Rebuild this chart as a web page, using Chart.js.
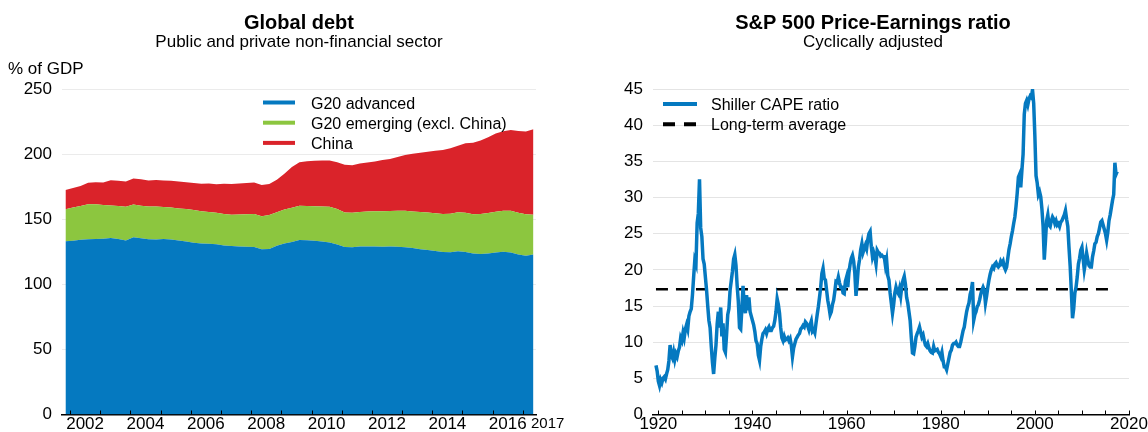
<!DOCTYPE html>
<html><head><meta charset="utf-8">
<script src="https://cdn.jsdelivr.net/npm/chart.js@4.4.1/dist/chart.umd.min.js"></script>
<style>
html,body{margin:0;padding:0;background:#fff;width:1148px;height:432px;overflow:hidden}
#c1{position:absolute;left:0;top:0}
#c2{position:absolute;left:574px;top:0}
</style></head><body>
<canvas id="c1" width="574" height="432"></canvas>
<canvas id="c2" width="574" height="432"></canvas>
<script>
// ---------- Data: Global debt (% of GDP), quarterly 2001Q4 - 2017Q2 ----------
const debtFirst = [2001, 4];
const debtLast = [2017, 2];
const debtAdvanced = [133,133.5,134.3,134.6,134.8,135,135.6,134.8,133.6,136.1,
  135.3,134.6,134.5,134.7,134.4,133.6,132.9,132,131.3,131.2,
  130.8,129.8,129.4,129.1,128.9,128.6,127,127.2,129.6,131.3,
  132.5,134,133.8,133.4,132.8,132.1,130.5,128.6,128.4,129,
  129.1,129,128.8,129.1,128.8,128.4,127.8,127,126.4,125.6,
  124.8,124.6,125.4,124.9,123.6,123.2,123.6,124.5,125,124.5,
  122.8,122,122.8];
const debtEmerging = [24.7,25.5,25.9,26.9,26.6,26,24.9,25.4,26,25.2,
  25.1,25.2,25.2,24.7,24.6,24.7,24.9,25,24.8,24.4,
  24.2,24.2,24.1,24.5,24.9,25.4,25.3,26,25.8,26.1,
  26.3,26.4,26.4,26.6,27,27.4,27.3,26.6,26.6,26.6,
  26.8,27.1,27.4,27.2,27.7,28,28.2,28.6,28.7,28.9,
  29.2,29.6,29.9,30,30.2,30.8,31.2,31.3,31.5,31.9,
  32.2,31.8,30.7];
const debtChina = [14.8,15,15.3,16.5,16.9,17.2,19.5,19.3,19.4,20,
  20.2,20,20.5,20.4,20.5,20.6,20.5,20.8,21.2,21.9,
  21.8,23.2,23.6,23.9,24,24.2,23.9,23.8,24.9,27.6,
  31.2,33.4,34.3,34.8,35.2,35.6,36,36.6,36.4,37.2,
  37.6,38.3,39.2,40,41.3,42.9,44.2,45.4,46.7,48.1,
  49.2,50.3,51.2,53.4,54.9,56.5,58.2,60,61.1,62.1,
  62.8,63.5,65.5];
const debtTickLabels = ['2002','2004','2006','2008','2010','2012','2014','2016'];
const debtLastLabel = '2017';
const debtYTicks = [0,50,100,150,200,250];

// ---------- Data: Shiller CAPE, quarterly from 1919.5 ----------
const capeStart = 1919.5;
const capeStep = 0.25;
const capeValues = [
 6.8,6.0,
 4.6,4.0,4.8,4.4,  5.0,5.2,4.9,5.6,  6.2,7.4,9.6,8.2,  7.8,8.6,7.6,8.4,  8.0,8.8,9.3,10.6,
 10.2,11.3,10.6,11.8,  12.4,11.8,13.6,14.2,  14.6,16.5,19.0,21.3,  20.8,26.5,27.8,32.5,  25.8,24.6,21.5,20.8,
 19.0,17.2,15.0,13.0,  12.0,9.4,7.2,5.6,  7.8,9.6,12.5,14.2,  12.0,14.8,10.8,12.6,  9.0,8.6,11.0,13.8,
 14.6,17.2,18.5,19.8,  21.5,22.1,20.6,17.8,  15.6,12.0,11.8,14.6,  17.8,15.2,14.0,16.5,  14.4,16.2,14.2,13.6,
 13.0,12.4,11.5,10.2,  9.8,8.2,7.5,9.4,  10.4,11.2,11.4,11.7,  11.2,11.8,12.1,11.6,  11.6,12.0,12.2,13.0,
 14.2,16.0,15.2,14.0,  12.0,10.6,10.2,10.8,  10.3,10.4,10.6,10.2,  10.5,9.6,8.0,9.2,  9.8,10.4,10.7,11.0,
 11.2,11.8,12.0,12.3,  12.1,12.8,12.6,12.2,  11.7,12.4,12.9,11.5,  11.7,11.3,12.6,13.8,  14.9,16.2,17.6,19.5,
 20.2,18.8,18.6,17.2,  15.8,14.9,13.8,14.2,  15.2,15.8,17.0,18.4,  18.3,19.0,18.2,17.6,  17.6,16.8,16.7,18.4,
 19.0,17.6,19.6,20.8,  21.6,22.0,21.2,19.5,  16.4,18.2,20.4,21.4,  22.8,23.6,22.4,22.9,  23.4,22.9,24.2,25.0,
 25.3,23.2,21.8,22.4,  21.8,20.8,22.7,22.4,  22.3,21.9,22.0,21.8,  21.8,20.6,21.4,19.2,  18.6,16.8,15.4,14.0,
 15.2,16.8,17.6,17.0,  16.7,17.4,16.4,17.8,  18.6,19.1,18.0,16.2,  15.4,14.2,13.0,10.6,  8.5,8.4,9.4,10.7,
 11.2,11.6,12.1,11.4,  10.7,11.0,10.2,9.6,  9.4,9.8,9.2,8.8,  8.6,8.5,9.4,8.8,  8.9,9.0,8.6,8.4,
 8.0,8.6,7.4,6.6,  6.6,6.2,7.0,7.8,  8.6,8.9,9.6,9.8,  9.8,10.0,9.6,9.4,  9.4,10.0,10.8,11.6,
 12.1,13.2,14.2,14.9,  15.4,16.6,17.2,18.3,  13.0,13.8,14.2,14.9,  15.2,15.8,16.6,17.2,  17.6,17.2,15.4,16.4,
 17.6,18.6,19.4,20.0,  20.4,20.2,20.8,21.0,  20.6,20.4,20.6,21.2,  20.9,21.2,20.4,20.0,  20.4,21.6,22.8,23.6,
 24.6,25.4,26.4,27.3,  28.8,30.6,32.8,33.2,  31.4,33.8,36.0,41.5,  43.0,43.4,42.8,43.6,  44.0,43.8,44.9,43.0,
 38.5,33.0,32.0,30.4,  30.8,30.1,28.4,26.0,  21.4,24.0,26.8,27.6,  26.2,26.0,26.8,27.3,  27.0,26.4,26.8,26.2,
 26.4,26.0,26.6,26.8,  27.2,27.6,28.2,27.0,  26.0,23.1,20.5,17.0,  13.3,14.6,16.8,17.6,  19.0,20.8,21.6,22.7,
 23.1,21.6,20.0,21.0,  22.3,21.4,20.6,20.4,  20.4,21.8,22.6,23.6,  23.8,24.6,25.0,25.8,  26.6,26.8,26.2,25.6,
 25.0,24.1,25.2,26.8,  27.6,28.6,29.6,30.4,  34.8,33.2,33.6
];
const capeAverage = 17.3;
const capeAverageSpan = [1919.5, 2016.2];
const capeTickLabels = ['1920','1940','1960','1980','2000','2020'];
const capeYTicks = [0,5,10,15,20,25,30,35,40,45];

// ---------- Styling ----------
const FONT = "'Liberation Sans', Arial, Helvetica, sans-serif";
Chart.defaults.font.family = FONT;
Chart.defaults.color = '#000';
const BLUE = '#0579C0', GREEN = '#8CC63F', RED = '#DA232A';

// quarter -> fractional year position
function quarterList(first, last) {
  const out = [];
  let y = first[0], q = first[1];
  while (y < last[0] || (y === last[0] && q <= last[1])) {
    out.push(y + (q - 1) * 0.25 + 0.1);
    q++; if (q > 4) { q = 1; y++; }
  }
  return out;
}
const debtX = quarterList(debtFirst, debtLast);
const capeX = capeValues.map((_, i) => capeStart + i * capeStep);
const pts = (xs, ys) => ys.map((v, i) => ({x: xs[i], y: v}));

// fixed axis sizes, no automatic label overflow padding
const fixY = w => s => { s.width = w; s.paddingTop = 0; s.paddingBottom = 0; };
const fixX = h => s => { s.height = h; s.paddingLeft = 0; s.paddingRight = 0; };

// ---------- Plugins ----------
const textPlugin = {
  id: 'texts',
  afterDraw(chart, args, o) {
    const ctx = chart.ctx; ctx.save(); ctx.fillStyle = '#000'; ctx.textBaseline = 'alphabetic';
    for (const t of o.items) { ctx.font = t.font; ctx.textAlign = t.align; ctx.fillText(t.text, t.x, t.y); }
    ctx.restore();
  }
};
const tickPlugin = {
  id: 'inTicks',
  afterDraw(chart, args, o) {
    const xs = chart.scales.x, ctx = chart.ctx, y = chart.chartArea.bottom;
    ctx.save(); ctx.strokeStyle = '#000'; ctx.lineWidth = 1;
    for (let v = o.from; v <= o.to + 1e-9; v += o.step) {
      const px = Math.round(xs.getPixelForValue(v)) + 0.5;
      ctx.beginPath(); ctx.moveTo(px, y); ctx.lineTo(px, y - o.len); ctx.stroke();
    }
    ctx.restore();
  }
};
const legendPlugin = {
  id: 'customLegend',
  afterDraw(chart, args, o) {
    const ctx = chart.ctx; ctx.save();
    chart.data.datasets.forEach((ds, i) => {
      const y = o.top + i * o.gap;
      ctx.strokeStyle = ds.fill ? ds.backgroundColor : ds.borderColor;
      ctx.lineWidth = o.lineWidth; ctx.lineCap = 'butt';
      ctx.setLineDash(ds.borderDash ? o.dash : []);
      ctx.beginPath(); ctx.moveTo(o.x, y); ctx.lineTo(o.x + o.len, y); ctx.stroke();
      ctx.setLineDash([]);
      ctx.fillStyle = '#000'; ctx.font = o.font; ctx.textAlign = 'left'; ctx.textBaseline = 'alphabetic';
      ctx.fillText(ds.label, o.textX, y + o.dy);
    });
    ctx.restore();
  }
};

// ---------- Chart 1: Global debt ----------
new Chart(document.getElementById('c1'), {
  type: 'line',
  data: {
    datasets: [
      {label: 'G20 advanced', data: pts(debtX, debtAdvanced), backgroundColor: BLUE, fill: 'origin'},
      {label: 'G20 emerging (excl. China)', data: pts(debtX, debtEmerging), backgroundColor: GREEN, fill: '-1'},
      {label: 'China', data: pts(debtX, debtChina), backgroundColor: RED, fill: '-1'}
    ].map(d => Object.assign(d, {borderWidth: 0, pointRadius: 0, tension: 0}))
  },
  options: {
    responsive: false, animation: false, events: [],
    layout: {padding: {left: 0, right: 38, top: 89, bottom: 0}},
    plugins: {
      legend: {display: false}, tooltip: {enabled: false},
      texts: {items: [
        {text: 'Global debt', x: 299, y: 28.5, font: 'bold 20px ' + FONT, align: 'center'},
        {text: 'Public and private non-financial sector', x: 299, y: 47, font: '17px ' + FONT, align: 'center'},
        {text: '% of GDP', x: 8, y: 73.5, font: '17px ' + FONT, align: 'left'},
        {text: debtLastLabel, x: 531, y: 427.5, font: '15px ' + FONT, align: 'left'}
      ]},
      inTicks: {from: 2002, to: 2017, step: 1, len: 4},
      customLegend: {x: 263, len: 32, textX: 311, top: 102.5, gap: 20.2, lineWidth: 4, dy: 6.5, font: '16px ' + FONT, dash: []}
    },
    scales: {
      x: {
        type: 'linear', min: 2001.735, max: 2017.435, z: 1,
        afterFit: fixX(17.5),
        afterBuildTicks: s => { s.ticks = debtTickLabels.map(l => ({value: Number(l) + 0.5})); },
        grid: {display: false, drawTicks: false},
        border: {display: true, color: '#000', width: 1.5},
        ticks: {autoSkip: false, maxRotation: 0, padding: 0, font: {size: 17},
          callback: (v, i) => debtTickLabels[i]}
      },
      y: {
        stacked: true, min: 0, max: 250, z: 1,
        afterFit: fixY(62),
        afterBuildTicks: s => { s.ticks = debtYTicks.map(v => ({value: v})); },
        grid: {drawTicks: false, lineWidth: 1,
          color: c => c.tick && c.tick.value === 0 ? 'rgba(0,0,0,0)' : 'rgba(205,205,205,0.4)'},
        border: {display: false},
        ticks: {padding: 10, font: {size: 17}}
      }
    }
  },
  plugins: [textPlugin, tickPlugin, legendPlugin]
});

// ---------- Chart 2: CAPE ----------
new Chart(document.getElementById('c2'), {
  type: 'line',
  data: {
    datasets: [
      {label: 'Shiller CAPE ratio', data: pts(capeX, capeValues), borderColor: BLUE, borderWidth: 3.5,
       pointRadius: 0, tension: 0, fill: false},
      {label: 'Long-term average', data: pts(capeAverageSpan, capeAverageSpan.map(() => capeAverage)),
       borderColor: '#000', borderWidth: 2.5, borderDash: [12, 8], pointRadius: 0, fill: false}
    ]
  },
  options: {
    responsive: false, animation: false, events: [],
    layout: {padding: {left: 0, right: 19, top: 89, bottom: 0}},
    plugins: {
      legend: {display: false}, tooltip: {enabled: false},
      texts: {items: [
        {text: 'S&P 500 Price-Earnings ratio', x: 299, y: 28.5, font: 'bold 20px ' + FONT, align: 'center'},
        {text: 'Cyclically adjusted', x: 299, y: 47, font: '17px ' + FONT, align: 'center'}
      ]},
      inTicks: {from: 1920, to: 2020, step: 5, len: 4},
      customLegend: {x: 89, len: 34, textX: 137, top: 104, gap: 20.3, lineWidth: 4, dy: 5.5, font: '16px ' + FONT, dash: [12, 9]}
    },
    scales: {
      x: {
        type: 'linear', min: 1918.87, max: 2020,
        afterFit: fixX(17.5),
        afterBuildTicks: s => { s.ticks = capeTickLabels.map(l => ({value: Number(l)})); },
        grid: {display: false, drawTicks: false},
        border: {display: true, color: '#000', width: 1.5},
        ticks: {autoSkip: false, maxRotation: 0, padding: 0, font: {size: 17},
          callback: (v, i) => capeTickLabels[i]}
      },
      y: {
        min: 0, max: 45,
        afterFit: fixY(79),
        afterBuildTicks: s => { s.ticks = capeYTicks.map(v => ({value: v})); },
        grid: {drawTicks: false, lineWidth: 1,
          color: c => c.tick && c.tick.value === 0 ? 'rgba(0,0,0,0)' : '#e4e4e4'},
        border: {display: false},
        ticks: {padding: 10, font: {size: 17}}
      }
    }
  },
  plugins: [textPlugin, tickPlugin, legendPlugin]
});
</script>
</body></html>
